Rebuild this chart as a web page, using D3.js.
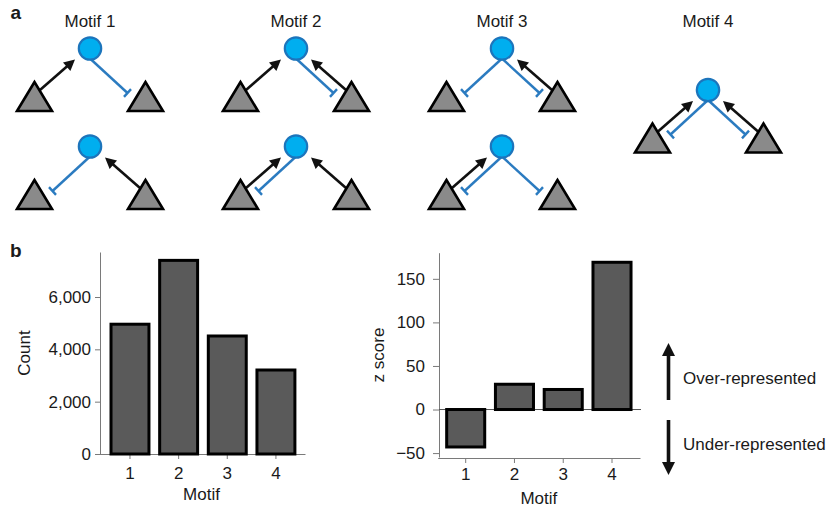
<!DOCTYPE html>
<html><head><meta charset="utf-8">
<script src="https://cdn.jsdelivr.net/npm/d3@7"></script>
<style>
body{margin:0;background:#fff}
svg{display:block;font-family:"Liberation Sans",Arial,Helvetica,sans-serif}
</style></head><body>
<svg id="fig" width="831" height="508"></svg>
<script>
// ---- data ----
const motifs = ["1", "2", "3", "4"];
const motifLabels = ["Motif 1", "Motif 2", "Motif 3", "Motif 4"];
// edge type on each side of the hub, one entry per drawn variant
// "act": triangle activates the hub, "inh": hub inhibits the triangle, "both": both edges
const motifLeft  = [["act", "inh"], ["act", "both"], ["inh", "both"], ["both"]];
const motifRight = [["inh", "act"], ["both", "act"], ["both", "inh"], ["both"]];
const counts  = [4960, 7400, 4510, 3210];
const zScores = [-43, 29, 23, 169];
const countTicks = [0, 2000, 4000, 6000];
const zTicks = [-50, 0, 50, 100, 150];
const annotations = ["Over-represented", "Under-represented"];

// ---- styles ----
const FONT = '"Liberation Sans", Arial, Helvetica, sans-serif';
const INK = "#1a1a1a", AXIS = "#7a7a7a", BAR = "#5a5a5a";
const HUB_FILL = "#00aeef", HUB_STROKE = "#1c75bc", INH = "#2b7bc0", TRI = "#8a8a8a";
const FS = 17;

const svg = d3.select("#fig");

// ---- panel a: motif diagrams ----
svg.append("text").attr("x", 10.5).attr("y", 19).attr("font-size", 19)
  .attr("font-weight", "bold").attr("fill", INK).text("a");

const mx = d3.scalePoint().domain(motifs).range([90, 708]);
const rowY = { 2: [48.5, 146.5], 1: [90] };

svg.selectAll("text.mlabel").data(motifs).join("text")
  .attr("class", "mlabel")
  .attr("x", d => mx(d)).attr("y", 27)
  .attr("text-anchor", "middle").attr("font-size", FS).attr("fill", INK)
  .text((d, i) => motifLabels[i]);

function arrow(g, x1, y1, x2, y2, color, width, headLen, headHalf) {
  const dx = x2 - x1, dy = y2 - y1, L = Math.hypot(dx, dy);
  const ux = dx / L, uy = dy / L, nx = -uy, ny = ux;
  const bx = x2 - ux * headLen, by = y2 - uy * headLen;
  g.append("line").attr("x1", x1).attr("y1", y1)
    .attr("x2", bx + ux).attr("y2", by + uy)
    .attr("stroke", color).attr("stroke-width", width);
  g.append("path")
    .attr("d", d3.line()([[x2, y2], [bx + nx * headHalf, by + ny * headHalf], [bx - nx * headHalf, by - ny * headHalf]]) + "Z")
    .attr("fill", color);
}

function inhibit(g, x1, y1, x2, y2) {
  const dx = x2 - x1, dy = y2 - y1, L = Math.hypot(dx, dy);
  const nx = -dy / L, ny = dx / L, h = 5.2;
  g.append("line").attr("x1", x1).attr("y1", y1).attr("x2", x2).attr("y2", y2)
    .attr("stroke", INH).attr("stroke-width", 2.4);
  g.append("line").attr("x1", x2 + nx * h).attr("y1", y2 + ny * h)
    .attr("x2", x2 - nx * h).attr("y2", y2 - ny * h)
    .attr("stroke", INH).attr("stroke-width", 2.4);
}

function drawMotif(cx, cy, leftType, rightType) {
  const g = svg.append("g").attr("transform", `translate(${cx},${cy})`);
  [[-1, leftType], [1, rightType]].forEach(([s, type]) => {
    if (type === "act" || type === "both") arrow(g, s * 50, 41.5, s * 15, 11, "#111", 2.6, 11, 5.6);
    if (type === "inh" || type === "both") inhibit(g, 0, 10, s * 37.5, 44.5);
  });
  [-1, 1].forEach(s => {
    const tx = s * 55.5;
    g.append("path")
      .attr("d", d3.line()([[tx, 33.5], [tx - 17.5, 62.5], [tx + 17.5, 62.5]]) + "Z")
      .attr("fill", TRI).attr("stroke", "#000").attr("stroke-width", 2.6)
      .attr("stroke-linejoin", "miter");
  });
  g.append("circle").attr("r", 11.2).attr("fill", HUB_FILL)
    .attr("stroke", HUB_STROKE).attr("stroke-width", 2.2);
}

motifs.forEach((m, i) => {
  const n = motifLeft[i].length;
  motifLeft[i].forEach((lt, v) => drawMotif(mx(m), rowY[n][v], lt, motifRight[i][v]));
});

// ---- panel b ----
svg.append("text").attr("x", 10).attr("y", 257).attr("font-size", 19)
  .attr("font-weight", "bold").attr("fill", INK).text("b");

function styleAxis(g) {
  g.attr("font-size", FS).attr("font-family", FONT);
  g.select(".domain").attr("stroke", AXIS);
  g.selectAll(".tick line").attr("stroke", AXIS);
  g.selectAll(".tick text").attr("fill", INK).attr("font-family", FONT);
}

// counts
const xL = d3.scaleBand().domain(motifs).range([98, 305])
  .paddingInner(0.22).paddingOuter(0.2375).align(0.563);
const yL = d3.scaleLinear().domain([0, 7720]).range([454, 252]);

svg.append("g").attr("transform", "translate(100,0)")
  .call(d3.axisLeft(yL).tickValues(countTicks).tickFormat(d3.format(","))
    .tickSize(5).tickPadding(4).tickSizeOuter(0))
  .call(styleAxis);
svg.append("g").attr("transform", `translate(0,${yL(0)})`)
  .call(d3.axisBottom(xL).tickSize(5).tickPadding(8).tickSizeOuter(0))
  .call(styleAxis);

svg.append("g").selectAll("rect").data(counts).join("rect")
  .attr("x", (d, i) => xL(motifs[i])).attr("width", xL.bandwidth())
  .attr("y", d => yL(d)).attr("height", d => yL(0) - yL(d))
  .attr("fill", BAR).attr("stroke", "#000").attr("stroke-width", 3);

svg.append("text").attr("transform", `translate(30,353) rotate(-90)`)
  .attr("text-anchor", "middle").attr("font-size", FS).attr("fill", INK).text("Count");
svg.append("text").attr("x", (xL.range()[0] + xL.range()[1]) / 2).attr("y", 500)
  .attr("text-anchor", "middle").attr("font-size", FS).attr("fill", INK).text("Motif");

// z scores
const xR = d3.scaleBand().domain(motifs).range([437.7, 640])
  .paddingInner(0.22).paddingOuter(0.184).align(0.5);
const yR = d3.scaleLinear().domain([-54.5, 180]).range([457, 252.7]);

svg.append("g").attr("transform", "translate(439,0)")
  .call(d3.axisLeft(yR).tickValues(zTicks).tickSize(6).tickPadding(8).tickSizeOuter(0))
  .call(styleAxis);
svg.append("g").attr("transform", "translate(0,458)")
  .call(d3.axisBottom(xR).tickSize(5).tickPadding(5).tickSizeOuter(0))
  .call(styleAxis);

svg.append("line").attr("x1", 439).attr("x2", xR.range()[1] + 1)
  .attr("y1", yR(0)).attr("y2", yR(0)).attr("stroke", "#555").attr("stroke-width", 1);

svg.append("g").selectAll("rect").data(zScores).join("rect")
  .attr("x", (d, i) => xR(motifs[i])).attr("width", xR.bandwidth())
  .attr("y", d => yR(Math.max(0, d))).attr("height", d => Math.abs(yR(d) - yR(0)))
  .attr("fill", BAR).attr("stroke", "#000").attr("stroke-width", 3);

svg.append("text").attr("transform", `translate(383.5,355) rotate(-90)`)
  .attr("text-anchor", "middle").attr("font-size", FS).attr("fill", INK).text("z score");
svg.append("text").attr("x", (xR.range()[0] + xR.range()[1]) / 2).attr("y", 504)
  .attr("text-anchor", "middle").attr("font-size", FS).attr("fill", INK).text("Motif");

// over / under annotation
const ann = svg.append("g");
arrow(ann, 668.5, 400, 668.5, 343, "#111", 3.6, 13, 6.5);
arrow(ann, 668.5, 420, 668.5, 475, "#111", 3.6, 13, 6.5);
ann.append("text").attr("x", 683).attr("y", 384).attr("font-size", FS).attr("fill", INK).text(annotations[0]);
ann.append("text").attr("x", 683).attr("y", 450).attr("font-size", FS).attr("fill", INK).text(annotations[1]);
</script>
</body></html>
